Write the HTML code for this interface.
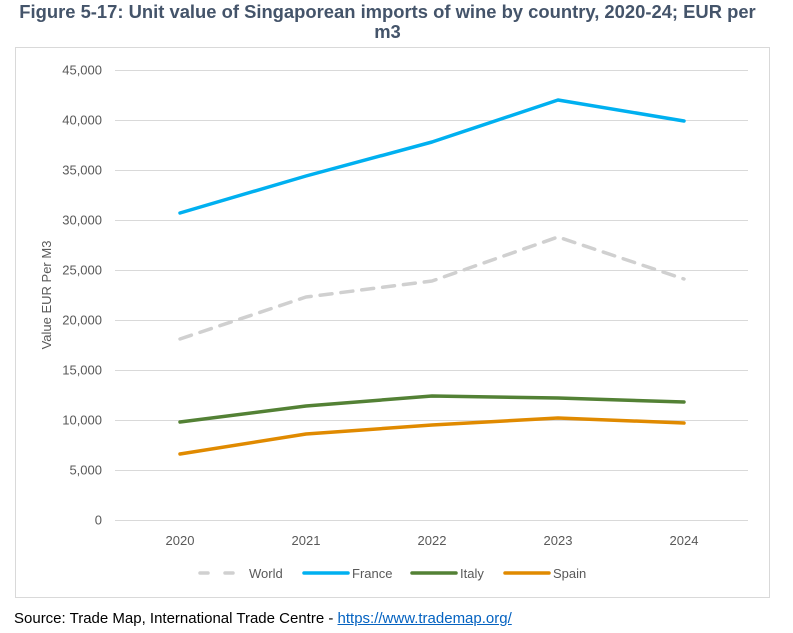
<!DOCTYPE html>
<html><head><meta charset="utf-8"><style>
body{margin:0;background:#fff;width:793px;height:633px;overflow:hidden;font-family:"Liberation Sans",sans-serif}
#title{position:absolute;left:-9px;top:2px;width:793px;text-align:center;font-weight:bold;font-size:18.4px;line-height:20px;color:#44546A}
#src{position:absolute;left:14px;top:610px;font-size:15px;color:#000}
#src a{color:#0563C1;text-decoration:underline}
</style></head><body>
<div id="title">Figure 5-17: Unit value of Singaporean imports of wine by country, 2020-24; EUR per<br>m3</div>
<svg id="chart" width="793" height="633" style="position:absolute;left:0;top:0">
<rect x="15.5" y="47.5" width="754" height="550" fill="none" stroke="#d9d9d9"/>
<g id="grid"></g><g id="series"></g>
<text transform="translate(51,295) rotate(-90)" text-anchor="middle" font-size="13" fill="#595959">Value EUR Per M3</text>
<g id="legend"></g>
</svg>
<div id="src">Source: Trade Map, International Trade Centre - <a>https://www.trademap.org/</a></div>
<script>
const years=["2020","2021","2022","2023","2024"];
const yTicks=[0,5000,10000,15000,20000,25000,30000,35000,40000,45000];
const world=[18100,22300,23900,28300,24100];
const france=[30700,34400,37800,42000,39900];
const italy=[9800,11400,12400,12200,11800];
const spain=[6600,8600,9500,10200,9700];
const NS="http://www.w3.org/2000/svg";
const x=i=>180+i*126, y=v=>520-v*450/45000;
function mk(t,a,p){const e=document.createElementNS(NS,t);for(const k in a)e.setAttribute(k,a[k]);p.appendChild(e);return e;}
const g=document.getElementById('grid');
yTicks.forEach(v=>{
 const l=mk('line',{x1:115,x2:748,y1:y(v)+.5,y2:y(v)+.5,stroke:'#d9d9d9'},g);
 
 
 const t=mk('text',{x:102,y:y(v)+4.5,'text-anchor':'end','font-size':'13',fill:'#595959'},g);
 t.textContent=v.toLocaleString('en-US');
 
 
});
years.forEach((yr,i)=>{
 const t=mk('text',{x:x(i),y:545,'text-anchor':'middle','font-size':'13',fill:'#595959'},g);
 t.textContent=yr;
 
 
});
const S=document.getElementById('series');
const defs=[["world",world,"#d0d0d0","12,9","World"],["france",france,"#00B0F0",null,"France"],["italy",italy,"#538135",null,"Italy"],["spain",spain,"#E08A00",null,"Spain"]];
defs.forEach(([n,d,c,dash])=>{
 const p=mk('polyline',{points:d.map((v,i)=>x(i)+','+y(v)).join(' '),fill:'none',stroke:c,'stroke-width':3.5,'stroke-linecap':'round','stroke-linejoin':'round'},S);
 if(dash)p.setAttribute('stroke-dasharray',dash);
 
 
});
const L=document.getElementById('legend');
const lp=[[200,240,249],[304,348,352],[412,456,460],[505,549,553]];
defs.forEach(([n,d,c,dash,lab],i)=>{
 const l=mk('line',{x1:lp[i][0],x2:lp[i][1],y1:573,y2:573,stroke:c,'stroke-width':3.5,'stroke-linecap':'round'},L);
 if(dash)l.setAttribute('stroke-dasharray','8,17');
 
 
 const t=mk('text',{x:lp[i][2],y:578,'font-size':'13',fill:'#595959'},L);
 t.textContent=lab;
 
 
});
</script>
</body></html>
